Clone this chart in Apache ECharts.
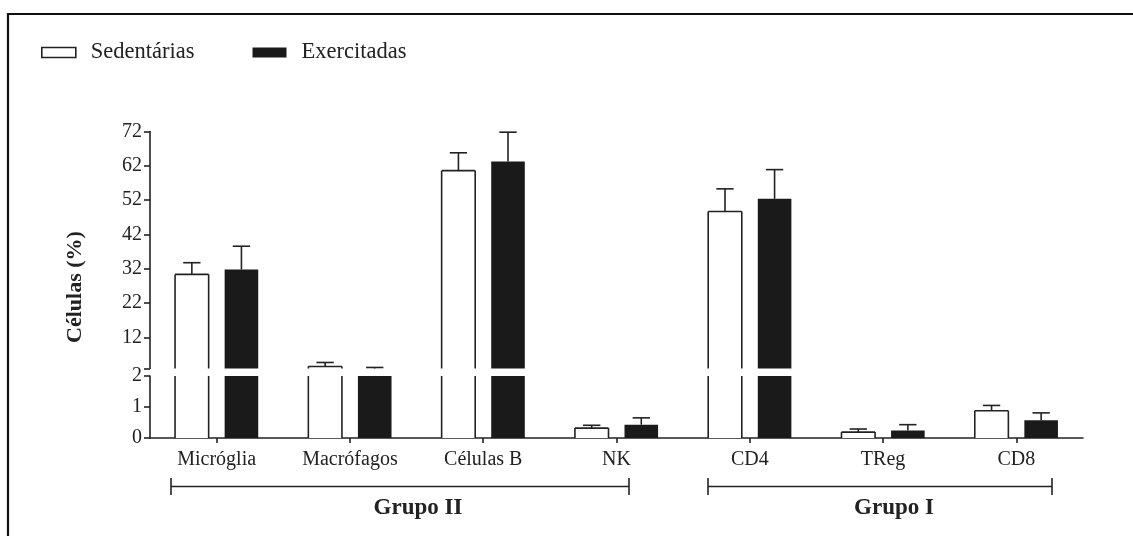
<!DOCTYPE html>
<html>
<head>
<meta charset="utf-8">
<script src="https://cdn.jsdelivr.net/npm/echarts@6/dist/echarts.min.js"></script>
<style>
html,body{margin:0;padding:0;background:#fff;}
#c{width:1133px;height:536px;}
</style>
</head>
<body>
<div id="c"></div>
<script>
// ---- data ----
const categories = ['Micróglia', 'Macrófagos', 'Células B', 'NK', 'CD4', 'TReg', 'CD8'];
const seriesNames = ['Sedentárias', 'Exercitadas'];
const sedentariasMean = [30.4, 3.6, 60.6, 0.32, 48.7, 0.19, 0.88];
const sedentariasErr  = [3.4, 1.15, 5.2, 0.09, 6.6, 0.10, 0.17];
const exercitadasMean = [31.8, 2.95, 63.3, 0.43, 52.4, 0.24, 0.57];
const exercitadasErr  = [6.8, 0.35, 8.5, 0.22, 8.5, 0.19, 0.24];
const upperTicks = [12, 22, 32, 42, 52, 62, 72];
const lowerTicks = [0, 1, 2];
const upperRange = [3, 72];
const lowerRange = [0, 2];
const groups = [{name: 'Grupo II'}, {name: 'Grupo I'}];

// ---- style ----
const FONT = "'Liberation Serif', 'Times New Roman', serif";
const INK = '#222';
const BLACK = '#1a1a1a';
const BAR_FRAC = 0.252;
const GAP_FRAC = 0.12;

function rows(mean, err) {
  return mean.map((v, i) => [i, v, err[i]]);
}

function makeRender(side, filled, yMin, yMax) {
  return function (params, api) {
    const cat = api.value(0), v = api.value(1), e = api.value(2);
    const band = api.size([1, 0])[0];
    const w = band * BAR_FRAC;
    const off = (w + band * GAP_FRAC) / 2;
    const cx = api.coord([cat, yMin])[0] + side * off;
    const bot = api.coord([cat, yMin])[1];
    const children = [];
    if (v > yMin) {
      const top = api.coord([cat, Math.min(v, yMax)])[1];
      children.push({
        type: 'rect',
        shape: {x: cx - w / 2, y: top, width: w, height: bot - top},
        style: {fill: filled ? BLACK : '#fff'}
      });
      if (!filled) {
        const ls = {stroke: INK, lineWidth: 1.6};
        children.push({type: 'line', shape: {x1: cx - w / 2, y1: top, x2: cx - w / 2, y2: bot}, style: ls});
        children.push({type: 'line', shape: {x1: cx + w / 2, y1: top, x2: cx + w / 2, y2: bot}, style: ls});
        if (v <= yMax) {
          children.push({type: 'line', shape: {x1: cx - w / 2, y1: top, x2: cx + w / 2, y2: top}, style: ls});
        }
      }
    }
    const hi = v + e;
    if (hi > yMin && v < yMax) {
      const from = api.coord([cat, Math.max(v, yMin)])[1];
      const to = api.coord([cat, Math.min(hi, yMax)])[1];
      const es = {stroke: INK, lineWidth: 1.6};
      children.push({type: 'line', shape: {x1: cx, y1: from, x2: cx, y2: to}, style: es});
      if (hi <= yMax) {
        const capW = band * 0.13;
        children.push({type: 'line', shape: {x1: cx - capW / 2, y1: to, x2: cx + capW / 2, y2: to}, style: es});
      }
    }
    return {type: 'group', children: children};
  };
}

const chart = echarts.init(document.getElementById('c'), null, {renderer: 'canvas'});

const gridLeft = 150, gridRight = 50;
const series = [];
const segs = [
  {grid: 0, range: upperRange},
  {grid: 1, range: lowerRange}
];
segs.forEach(s => {
  series.push({
    type: 'custom', name: seriesNames[0], xAxisIndex: s.grid, yAxisIndex: s.grid,
    renderItem: makeRender(-1, false, s.range[0], s.range[1]),
    encode: {x: 0, y: 1}, data: rows(sedentariasMean, sedentariasErr), clip: false,
    itemStyle: {color: '#fff', borderColor: INK}
  });
  series.push({
    type: 'custom', name: seriesNames[1], xAxisIndex: s.grid, yAxisIndex: s.grid,
    renderItem: makeRender(1, true, s.range[0], s.range[1]),
    encode: {x: 0, y: 1}, data: rows(exercitadasMean, exercitadasErr), clip: false,
    itemStyle: {color: BLACK}
  });
});

const axisLineStyle = {color: INK, width: 1.6};
const labelStyle = {color: INK, fontFamily: FONT, fontSize: 20};

chart.setOption({
  animation: false,
  backgroundColor: '#fff',
  textStyle: {fontFamily: FONT},
  legend: {
    left: 36, top: 36,
    itemWidth: 34, itemHeight: 10, itemGap: 58,
    textStyle: {color: INK, fontFamily: FONT, fontSize: 22.5, padding: [0, 0, 0, 10]},
    data: [
      {name: seriesNames[0], icon: 'rect', itemStyle: {color: '#fff', borderColor: INK, borderWidth: 1.6}},
      {name: seriesNames[1], icon: 'rect', itemStyle: {color: BLACK, borderWidth: 0}}
    ],
    selectedMode: false
  },
  grid: [
    {left: gridLeft, right: gridRight, top: 131.5, height: 237},
    {left: gridLeft, right: gridRight, top: 376, height: 62}
  ],
  xAxis: [
    {type: 'category', gridIndex: 0, data: categories, show: false, boundaryGap: true},
    {type: 'category', gridIndex: 1, data: categories, boundaryGap: true,
      axisLine: {show: true, lineStyle: axisLineStyle},
      axisTick: {show: true, alignWithLabel: true, length: 5, lineStyle: axisLineStyle},
      axisLabel: Object.assign({margin: 12, interval: 0}, labelStyle)}
  ],
  yAxis: [
    {type: 'value', gridIndex: 0, min: upperRange[0], max: upperRange[1],
      splitLine: {show: false},
      axisLine: {show: true, lineStyle: axisLineStyle},
      axisTick: {show: true, length: 6, lineStyle: axisLineStyle, customValues: [upperRange[0]].concat(upperTicks)},
      axisLabel: Object.assign({margin: 8, customValues: upperTicks}, labelStyle)},
    {type: 'value', gridIndex: 1, min: lowerRange[0], max: lowerRange[1], interval: 1,
      splitLine: {show: false},
      axisLine: {show: true, lineStyle: axisLineStyle},
      axisTick: {show: true, length: 6, lineStyle: axisLineStyle, customValues: lowerTicks},
      axisLabel: Object.assign({margin: 8, customValues: lowerTicks}, labelStyle)}
  ],
  series: series,
  graphic: [
    {type: 'rect', shape: {x: 8, y: 14, width: 1200, height: 600},
      style: {fill: 'none', stroke: '#111', lineWidth: 2.2}, silent: true, z: 0},
    {type: 'text', x: 75, y: 287, rotation: Math.PI / 2,
      style: {text: 'Células (%)', font: "bold 22px 'Liberation Serif', serif", fill: INK, align: 'center', verticalAlign: 'middle'}},
    // Grupo II bracket
    {type: 'line', shape: {x1: 171, y1: 486.5, x2: 629, y2: 486.5}, style: {stroke: INK, lineWidth: 1.6}},
    {type: 'line', shape: {x1: 171, y1: 478, x2: 171, y2: 495}, style: {stroke: INK, lineWidth: 1.6}},
    {type: 'line', shape: {x1: 629, y1: 478, x2: 629, y2: 495}, style: {stroke: INK, lineWidth: 1.6}},
    {type: 'text', x: 418, y: 508,
      style: {text: groups[0].name, font: "bold 23px 'Liberation Serif', serif", fill: INK, align: 'center', verticalAlign: 'middle'}},
    // Grupo I bracket
    {type: 'line', shape: {x1: 708, y1: 486.5, x2: 1052, y2: 486.5}, style: {stroke: INK, lineWidth: 1.6}},
    {type: 'line', shape: {x1: 708, y1: 478, x2: 708, y2: 495}, style: {stroke: INK, lineWidth: 1.6}},
    {type: 'line', shape: {x1: 1052, y1: 478, x2: 1052, y2: 495}, style: {stroke: INK, lineWidth: 1.6}},
    {type: 'text', x: 894, y: 508,
      style: {text: groups[1].name, font: "bold 23px 'Liberation Serif', serif", fill: INK, align: 'center', verticalAlign: 'middle'}}
  ]
});
</script>
</body>
</html>
